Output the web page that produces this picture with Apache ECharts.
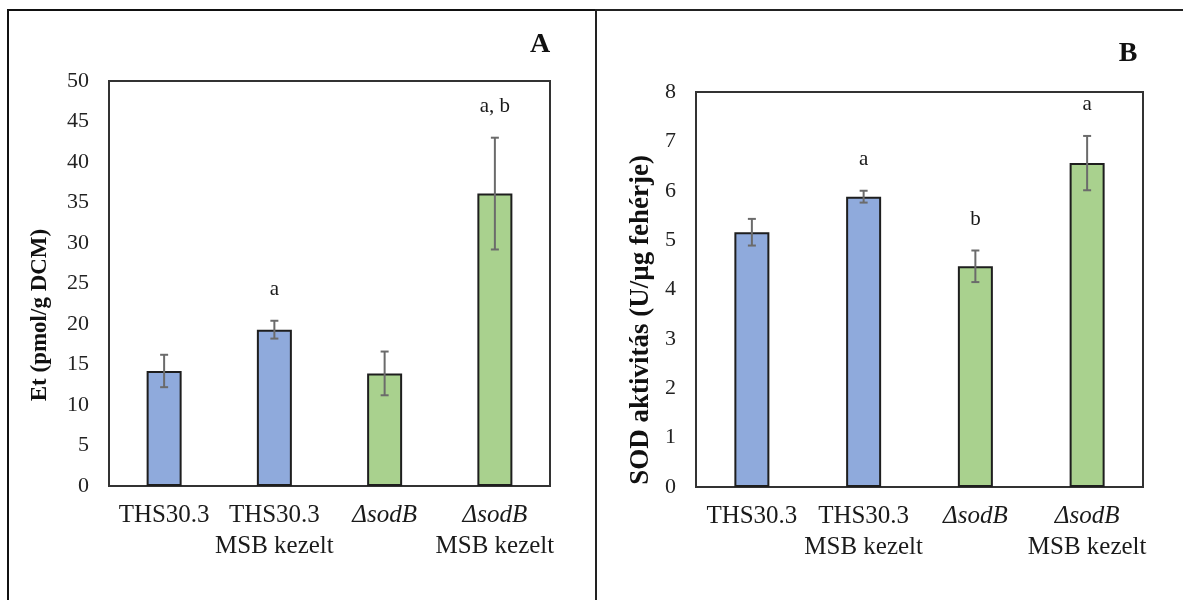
<!DOCTYPE html>
<html>
<head>
<meta charset="utf-8">
<script src="https://cdn.jsdelivr.net/npm/echarts@6/dist/echarts.min.js"></script>
<style>
  html, body { margin: 0; padding: 0; background: #fff; }
  #chart { width: 1183px; height: 600px; }
</style>
</head>
<body>
<div id="chart"></div>
<script>
// Strain / treatment groups (shared by both panels)
const categories = ['THS30.3', 'THS30.3\nMSB kezelt', 'ΔsodB', 'ΔsodB\nMSB kezelt'];

// Panel A: ethylene production, pmol/g DCM
const etMean = [14.2, 19.3, 13.9, 36.1];
const etErr = [2.0, 1.1, 2.7, 6.9];
const etLetters = ['', 'a', '', 'a, b'];
const etTicks = { min: 0, max: 50, interval: 5 };

// Panel B: SOD activity, U/µg protein
const sodMean = [5.16, 5.88, 4.47, 6.56];
const sodErr = [0.27, 0.12, 0.32, 0.55];
const sodLetters = ['', 'a', 'b', 'a'];
const sodTicks = { min: 0, max: 8, interval: 1 };

const SERIF = '"Liberation Serif", "Times New Roman", serif';
const BLUE = '#8FAADC';
const GREEN = '#A9D18E';

const chart = echarts.init(document.getElementById('chart'), null, { renderer: 'canvas' });

function barColor(p) { return p.dataIndex < 2 ? BLUE : GREEN; }

function categoryLabel(value) {
  return value.split('\n').map(function (line) {
    return line.indexOf('sodB') >= 0 ? '{i|' + line + '}' : '{n|' + line + '}';
  }).join('\n');
}

function xAxisFor(gridIndex) {
  return {
    type: 'category', gridIndex: gridIndex, data: categories,
    axisLine: { show: false }, axisTick: { show: false },
    axisLabel: {
      interval: 0, margin: 14, formatter: categoryLabel,
      rich: {
        n: { fontFamily: SERIF, fontSize: 25, color: '#1a1a1a', lineHeight: 31 },
        i: { fontFamily: SERIF, fontSize: 25, color: '#1a1a1a', lineHeight: 31, fontStyle: 'italic' }
      }
    }
  };
}

function yAxisFor(gridIndex, t) {
  return {
    type: 'value', gridIndex: gridIndex, min: t.min, max: t.max, interval: t.interval,
    axisLine: { show: false }, axisTick: { show: false }, splitLine: { show: false },
    axisLabel: { fontFamily: SERIF, fontSize: 22, color: '#222', margin: 20 }
  };
}

function errorSeries(idx, mean, err, letters) {
  return {
    type: 'custom', xAxisIndex: idx, yAxisIndex: idx, z: 5,
    data: mean.map(function (m, i) { return [i, m, err[i]]; }),
    encode: { x: 0, y: 1 },
    renderItem: function (params, api) {
      const i = api.value(0), m = api.value(1), e = api.value(2);
      const top = api.coord([i, m + e]);
      const bot = api.coord([i, m - e]);
      const cap = 4;
      const st = { stroke: '#6b6b6b', lineWidth: 2 };
      const children = [
        { type: 'line', shape: { x1: top[0], y1: top[1], x2: bot[0], y2: bot[1] }, style: st },
        { type: 'line', shape: { x1: top[0] - cap, y1: top[1], x2: top[0] + cap, y2: top[1] }, style: st },
        { type: 'line', shape: { x1: bot[0] - cap, y1: bot[1], x2: bot[0] + cap, y2: bot[1] }, style: st }
      ];
      const letter = letters[params.dataIndex];
      if (letter) {
        children.push({
          type: 'text',
          style: {
            text: letter, x: top[0], y: top[1] - 31,
            align: 'center', verticalAlign: 'middle',
            font: '21px ' + SERIF, fill: '#1a1a1a'
          }
        });
      }
      return { type: 'group', children: children };
    }
  };
}

function barSeries(idx, mean) {
  return {
    type: 'bar', xAxisIndex: idx, yAxisIndex: idx, data: mean, barWidth: 35,
    itemStyle: { color: barColor, borderColor: '#1e1e1e', borderWidth: 2 }
  };
}

chart.setOption({
  animation: false,
  backgroundColor: '#ffffff',
  grid: [
    { left: 109, right: 633, top: 81, bottom: 114, show: true, borderColor: '#333', borderWidth: 2, backgroundColor: 'transparent' },
    { left: 696, right: 40, top: 92, bottom: 113, show: true, borderColor: '#333', borderWidth: 2, backgroundColor: 'transparent' }
  ],
  xAxis: [xAxisFor(0), xAxisFor(1)],
  yAxis: [yAxisFor(0, etTicks), yAxisFor(1, sodTicks)],
  series: [
    barSeries(0, etMean),
    errorSeries(0, etMean, etErr, etLetters),
    barSeries(1, sodMean),
    errorSeries(1, sodMean, sodErr, sodLetters)
  ],
  graphic: [
    // panel frames
    { type: 'rect', shape: { x: 8, y: 10, width: 588, height: 620 }, style: { fill: 'none', stroke: '#111', lineWidth: 2 }, silent: true },
    { type: 'rect', shape: { x: 596, y: 10, width: 620, height: 620 }, style: { fill: 'none', stroke: '#222', lineWidth: 2 }, silent: true },
    // panel letters
    { type: 'text', x: 540, y: 45, style: { text: 'A', font: 'bold 28px ' + SERIF, fill: '#111', align: 'center', verticalAlign: 'middle' } },
    { type: 'text', x: 1128, y: 54, style: { text: 'B', font: 'bold 28px ' + SERIF, fill: '#111', align: 'center', verticalAlign: 'middle' } },
    // axis titles
    { type: 'text', x: 40, y: 315, rotation: Math.PI / 2, style: { text: 'Et (pmol/g DCM)', font: 'bold 23px ' + SERIF, fill: '#111', align: 'center', verticalAlign: 'middle' } },
    { type: 'text', x: 641, y: 320, rotation: Math.PI / 2, style: { text: 'SOD aktivitás (U/µg fehérje)', font: 'bold 27px ' + SERIF, fill: '#111', align: 'center', verticalAlign: 'middle' } }
  ]
});
</script>
</body>
</html>
